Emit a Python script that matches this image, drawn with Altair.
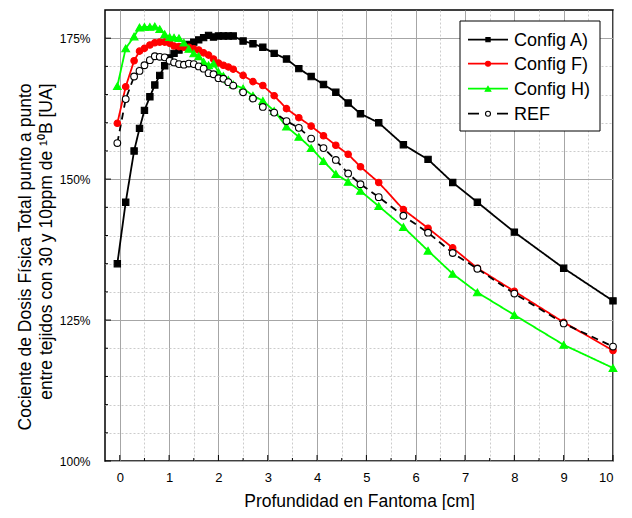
import altair as alt
import pandas as pd

# ---- data ----
depth = [-0.05, 0.12, 0.29, 0.40, 0.50, 0.61, 0.71, 0.81, 0.91, 1.01, 1.10, 1.20, 1.30, 1.40,
         1.50, 1.60, 1.70, 1.80, 1.90, 2.00, 2.10, 2.20, 2.30, 2.50, 2.70, 2.90, 3.13, 3.38,
         3.63, 3.88, 4.13, 4.38, 4.63, 4.88, 5.25, 5.75, 6.25, 6.75, 7.25, 8.0, 9.0, 10.0]

config_a = [135.0, 145.9, 155.0, 159.0, 162.2, 164.6, 166.7, 168.4, 170.1, 171.5, 172.3, 172.9,
            173.5, 173.9, 174.3, 174.7, 175.1, 175.5, 175.2, 175.4, 175.4, 175.4, 175.4, 174.5,
            174.0, 173.4, 172.3, 171.3, 169.6, 168.2, 166.8, 165.4, 163.5, 161.6, 160.0, 156.1,
            153.5, 149.4, 145.9, 140.6, 134.2, 128.4]

config_f = [159.9, 166.4, 171.0, 172.7, 173.2, 173.8, 174.2, 174.3, 174.3, 174.1, 173.6, 173.5,
            173.4, 173.4, 173.1, 172.9, 172.4, 172.0, 171.3, 170.6, 170.2, 169.9, 169.5, 168.4,
            167.3, 166.6, 164.8, 162.5, 160.9, 159.4, 157.7, 156.0, 154.4, 152.2, 149.4, 144.6,
            141.3, 137.8, 134.2, 130.1, 124.6, 119.6]

config_h = [166.5, 173.2, 175.3, 176.9, 177.0, 177.0, 177.1, 176.6, 175.7, 175.2, 175.1, 175.0,
            174.2, 173.1, 172.3, 171.8, 170.8, 170.2, 170.5, 169.0, 168.3, 167.6, 166.8, 166.1,
            164.8, 163.9, 162.1, 159.3, 157.5, 155.5, 153.2, 150.9, 149.5, 147.9, 145.2, 141.5,
            137.3, 133.2, 129.9, 125.9, 120.6, 116.5]

ref = [156.4, 164.2, 168.2, 169.2, 170.2, 171.1, 171.8, 171.7, 171.6, 171.0, 170.7, 170.4,
       170.3, 170.5, 170.4, 170.0, 169.6, 168.8, 168.6, 167.9, 167.8, 167.2, 166.6, 165.4,
       164.3, 162.8, 161.8, 160.3, 159.1, 157.2, 155.5, 153.4, 151.0, 149.1, 146.8, 143.5,
       140.5, 136.9, 134.1, 129.7, 124.4, 120.3]

series_names = ["Config A)", "Config F)", "Config H)", "REF"]
series_values = [config_a, config_f, config_h, ref]
line_colors = ["#000000", "#ff0000", "#00ff00", "#000000"]
point_fills = ["#000000", "#ff0000", "#00ff00", "#ffffff"]
point_shapes = ["square", "circle", "triangle-up", "circle"]
point_sizes = [40, 42, 60, 45]
legend_point_sizes = [18, 25, 32, 25]
dashes = [[1, 0], [1, 0], [1, 0], [7, 5]]

x_ticks = [i * 0.5 for i in range(0, 21)]
y_ticks = list(range(100, 176, 5))

rows = []
for name, vals in zip(series_names, series_values):
    for d, v in zip(depth, vals):
        rows.append({"Profundidad": d, "Cociente": v, "Serie": name})
df = pd.DataFrame(rows)

xt = pd.DataFrame({"Profundidad": x_ticks, "major": [v % 1 == 0 for v in x_ticks]})
yt = pd.DataFrame({"Cociente": y_ticks, "major": [v % 25 == 0 for v in y_ticks]})
leg = pd.DataFrame({"Serie": series_names})

W, H = 508, 451
FONT = "Liberation Sans"

x_scale = alt.Scale(domain=[-0.3, 10], nice=False, zero=False)
y_scale = alt.Scale(domain=[100, 180], nice=False, zero=False)

x_axis = alt.Axis(
    values=x_ticks, grid=True, ticks=False, domain=False,
    gridColor=alt.condition("datum.value % 1 === 0", alt.value("#a6a6a6"), alt.value("#cccccc")),
    gridDash=alt.condition("datum.value % 1 === 0", alt.value([]), alt.value([2, 2])),
    gridWidth=1,
    labelExpr="datum.value % 1 === 0 ? format(datum.value, 'd') : ''",
    labelOverlap=False, labelFontSize=13, labelPadding=10, labelColor="black", labelFont=FONT,
    title="Profundidad en Fantoma [cm]", titleFontSize=17.5, titleFontWeight="normal",
    titleFont=FONT, titleColor="black", titlePadding=8,
)
y_axis = alt.Axis(
    values=y_ticks, grid=True, ticks=False, domain=False,
    gridColor=alt.condition("datum.value % 25 === 0", alt.value("#a6a6a6"), alt.value("#cccccc")),
    gridDash=alt.condition("datum.value % 25 === 0", alt.value([]), alt.value([2, 2])),
    gridWidth=1,
    labelExpr="datum.value % 25 === 0 ? datum.value + '%' : ''",
    labelOverlap=False, labelFontSize=12, labelPadding=15, labelColor="black", labelFont=FONT,
    title=["Cociente de Dosis Física Total punto a punto",
           "entre tejidos con 30 y 10ppm de ¹⁰B [UA]"],
    titleFontSize=17.5, titleFontWeight="normal", titleFont=FONT, titleColor="black",
    titlePadding=4, titleLineHeight=21, titleAlign="right", titleY=73,
)

X = alt.X("Profundidad:Q", scale=x_scale, axis=x_axis)
Y = alt.Y("Cociente:Q", scale=y_scale, axis=y_axis)

base = alt.Chart(df)

lines = base.mark_line(strokeWidth=1.8).encode(
    x=X, y=Y,
    color=alt.Color("Serie:N", scale=alt.Scale(domain=series_names, range=line_colors), legend=None),
    strokeDash=alt.StrokeDash("Serie:N", scale=alt.Scale(domain=series_names, range=dashes), legend=None),
    detail="Serie:N",
    order=alt.Order("Profundidad:Q"),
)

point_layers = []
for name, shp, fc, sc, sz in zip(series_names, point_shapes, point_fills, line_colors, point_sizes):
    point_layers.append(
        base.transform_filter(alt.datum.Serie == name)
        .mark_point(shape=shp, fill=fc, stroke=sc, size=sz, strokeWidth=1.1, opacity=1, filled=False)
        .encode(x=X, y=Y)
    )

# inward tick marks on the bottom and left axes
x_major = alt.Chart(xt).transform_filter("datum.major").mark_rule(color="black", strokeWidth=1).encode(
    x=X, y=alt.value(H), y2=alt.value(H - 6))
x_minor = alt.Chart(xt).transform_filter("!datum.major").mark_rule(color="black", strokeWidth=1).encode(
    x=X, y=alt.value(H), y2=alt.value(H - 3))
y_major = alt.Chart(yt).transform_filter("datum.major").mark_rule(color="black", strokeWidth=1).encode(
    y=Y, x=alt.value(0), x2=alt.value(6))
y_minor = alt.Chart(yt).transform_filter("!datum.major").mark_rule(color="black", strokeWidth=1).encode(
    y=Y, x=alt.value(0), x2=alt.value(3))

# legend box (drawn in the upper right of the plot)
LX0, LX1, LY0, LY1 = 355, 495, 11, 121
SYM_X0, SYM_X1, SYM_XC, LABEL_X = 363, 403, 383, 409
ROW_Y = [29.7, 53.7, 78.7, 103.7]

legend_layers = [
    alt.Chart(leg.head(1)).mark_rect(fill="white", stroke="black", strokeWidth=1).encode(
        x=alt.value(LX0), x2=alt.value(LX1), y=alt.value(LY0), y2=alt.value(LY1))
]
for i, (name, shp, fc, sc, lsz) in enumerate(zip(series_names, point_shapes, point_fills,
                                                  line_colors, legend_point_sizes)):
    src = alt.Chart(leg).transform_filter(alt.datum.Serie == name)
    dash = [11, 18] if name == "REF" else [1, 0]
    legend_layers.append(
        src.mark_rule(color=sc, strokeWidth=1.8, strokeDash=dash).encode(
            x=alt.value(SYM_X0), x2=alt.value(SYM_X1), y=alt.value(ROW_Y[i])))
    legend_layers.append(
        src.mark_point(shape=shp, fill=fc, stroke=sc, size=lsz, strokeWidth=1.1, opacity=1, filled=False)
        .encode(x=alt.value(SYM_XC), y=alt.value(ROW_Y[i])))
    legend_layers.append(
        src.mark_text(align="left", baseline="middle", font=FONT, fontSize=18, color="black").encode(
            x=alt.value(LABEL_X), y=alt.value(ROW_Y[i] + 1), text="Serie:N"))

chart = alt.layer(lines, *point_layers, x_major, x_minor, y_major, y_minor, *legend_layers).properties(
    width=W, height=H, background="white",
    padding={"left": 8, "top": 2, "right": 0, "bottom": 0},
).configure_view(stroke="black", strokeWidth=1.5)

chart.save("out.html", embed_options={"renderer": "svg", "actions": False})
